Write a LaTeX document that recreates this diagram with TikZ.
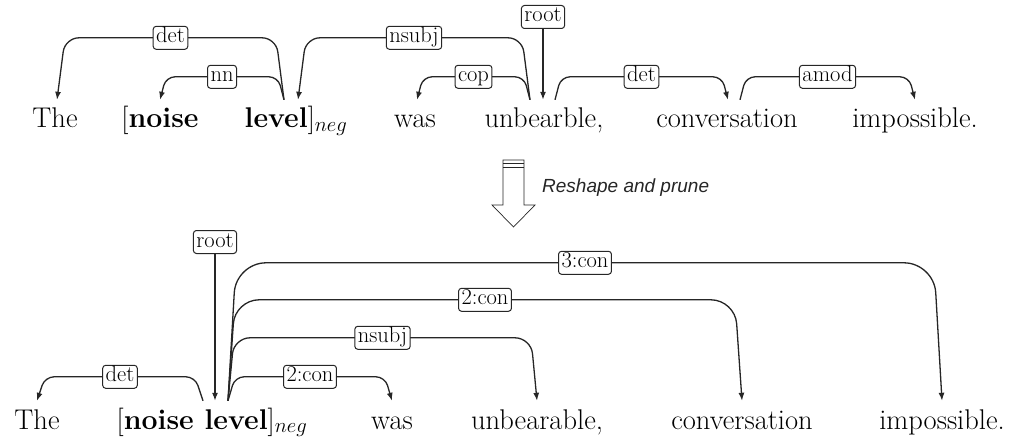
\documentclass[tikz,border=0pt]{standalone}
\usepackage{fontspec}
\newfontfamily\arialf{Liberation Sans}
\usetikzlibrary{calc,arrows.meta}
\newcommand{\depedge}[6]{%
  \draw[dep,rounded corners=#5] (#1) -- ++(#6,-#3) -- node[lab]{#4} ($(#2)+({-(#6)},-#3)$) -- (#2);}
\begin{document}
\begin{tikzpicture}[x=1pt,y=-1pt,
  word/.style={anchor=base, inner sep=0pt, text height=28pt, text depth=8pt,
    font=\fontsize{28.5}{34}\selectfont, text=black},
  lab/.style={draw=black!85, fill=white, rounded corners=3pt, inner xsep=3pt, inner ysep=1.5pt,
    text height=15pt, text depth=5pt, font=\fontsize{22.5}{26}\selectfont, line width=1pt},
  dep/.style={draw=black!85, line width=1.3pt, -{Latex[length=8pt,width=6pt]}},
]
\useasboundingbox (0,0) rectangle (1020,441);

% ---------- top sentence ----------
\node[word] (tthe)   at (55,128)  {The};
\node[word] (tnoise) at (160,128) {[\textbf{noise}};
\node[word] (tlvl)   at (296,128) {\textbf{level}]$_{neg}$};
\node[word] (twas)   at (415,128) {was};
\node[word] (tunb)   at (544,128) {unbearble,};
\node[word] (tconv)  at (727,128) {conversation};
\node[word] (timp)   at (915,128) {impossible.};

\coordinate (tlvlout) at ([xshift=-12pt]tlvl.north);
\coordinate (tlvlin)  at ([xshift=2pt]tlvl.north);
\coordinate (tthein)  at ([xshift=2pt]tthe.north);
\coordinate (twasin)  at ([xshift=2pt]twas.north);
\coordinate (tunbl)   at ([xshift=-14pt]tunb.north);
\coordinate (tunbr)   at ([xshift=11pt]tunb.north);
\coordinate (tconvin) at ([xshift=1pt]tconv.north);
\coordinate (tconvout) at ([xshift=13pt]tconv.north);

\depedge{tlvlout}{tthein}{62}{det}{14}{-8}
\depedge{tlvlout}{tnoise.north}{23}{nn}{9}{-6}
\depedge{tunbl}{tlvlin}{62}{nsubj}{14}{-8}
\depedge{tunbl}{twasin}{23}{cop}{9}{-6}
\depedge{tunbr}{tconvin}{23}{det}{9}{6}
\depedge{tconvout}{timp.north}{23}{amod}{9}{6}

\node[lab] (troot) at (543,17) {root};
\draw[dep] (troot) -- (troot |- tunb.north);

% ---------- block arrow ----------
\draw[line width=0.7pt, draw=black!85, fill=white] (503,160) -- (503,205) -- (492,205) -- (513.5,227)
  -- (535,205) -- (524,205) -- (524,160) -- cycle;
\draw[line width=1pt, draw=black!85] (503,163.5) -- (524,163.5);
\draw[line width=0.7pt, draw=black!85] (503,167) -- (524,167);
\node[anchor=west, inner sep=0pt, font=\arialf\itshape\fontsize{19}{23}\selectfont, text=black!85] (rp) at (542,188) {Reshape and prune};

% ---------- bottom sentence ----------
\node[word] (bthe)  at (37,429)  {The};
\node[word] (bnl)   at (212,429) {[\textbf{noise level}]$_{neg}$};
\node[word] (bwas)  at (392,429) {was};
\node[word] (bunb)  at (537,429) {unbearable,};
\node[word] (bconv) at (742,429) {conversation};
\node[word] (bimp)  at (942,429) {impossible.};

\coordinate (bdet) at ([xshift=-9pt]bnl.north);
\coordinate (bout) at ([xshift=16pt]bnl.north);
\coordinate (bin)  at ([xshift=3pt]bnl.north);

\depedge{bdet}{bthe.north}{24}{det}{9}{-8}
\depedge{bout}{bwas.north}{24}{2:con}{9}{7}
\depedge{bout}{bunb.north}{63}{nsubj}{16}{6}
\depedge{bout}{bconv.north}{101}{2:con}{24}{7}
\depedge{bout}{bimp.north}{138}{3:con}{30}{8}

\node[lab] (broot) at (215,242) {root};
\draw[dep] (broot) -- (bin);
\end{tikzpicture}
\end{document}
